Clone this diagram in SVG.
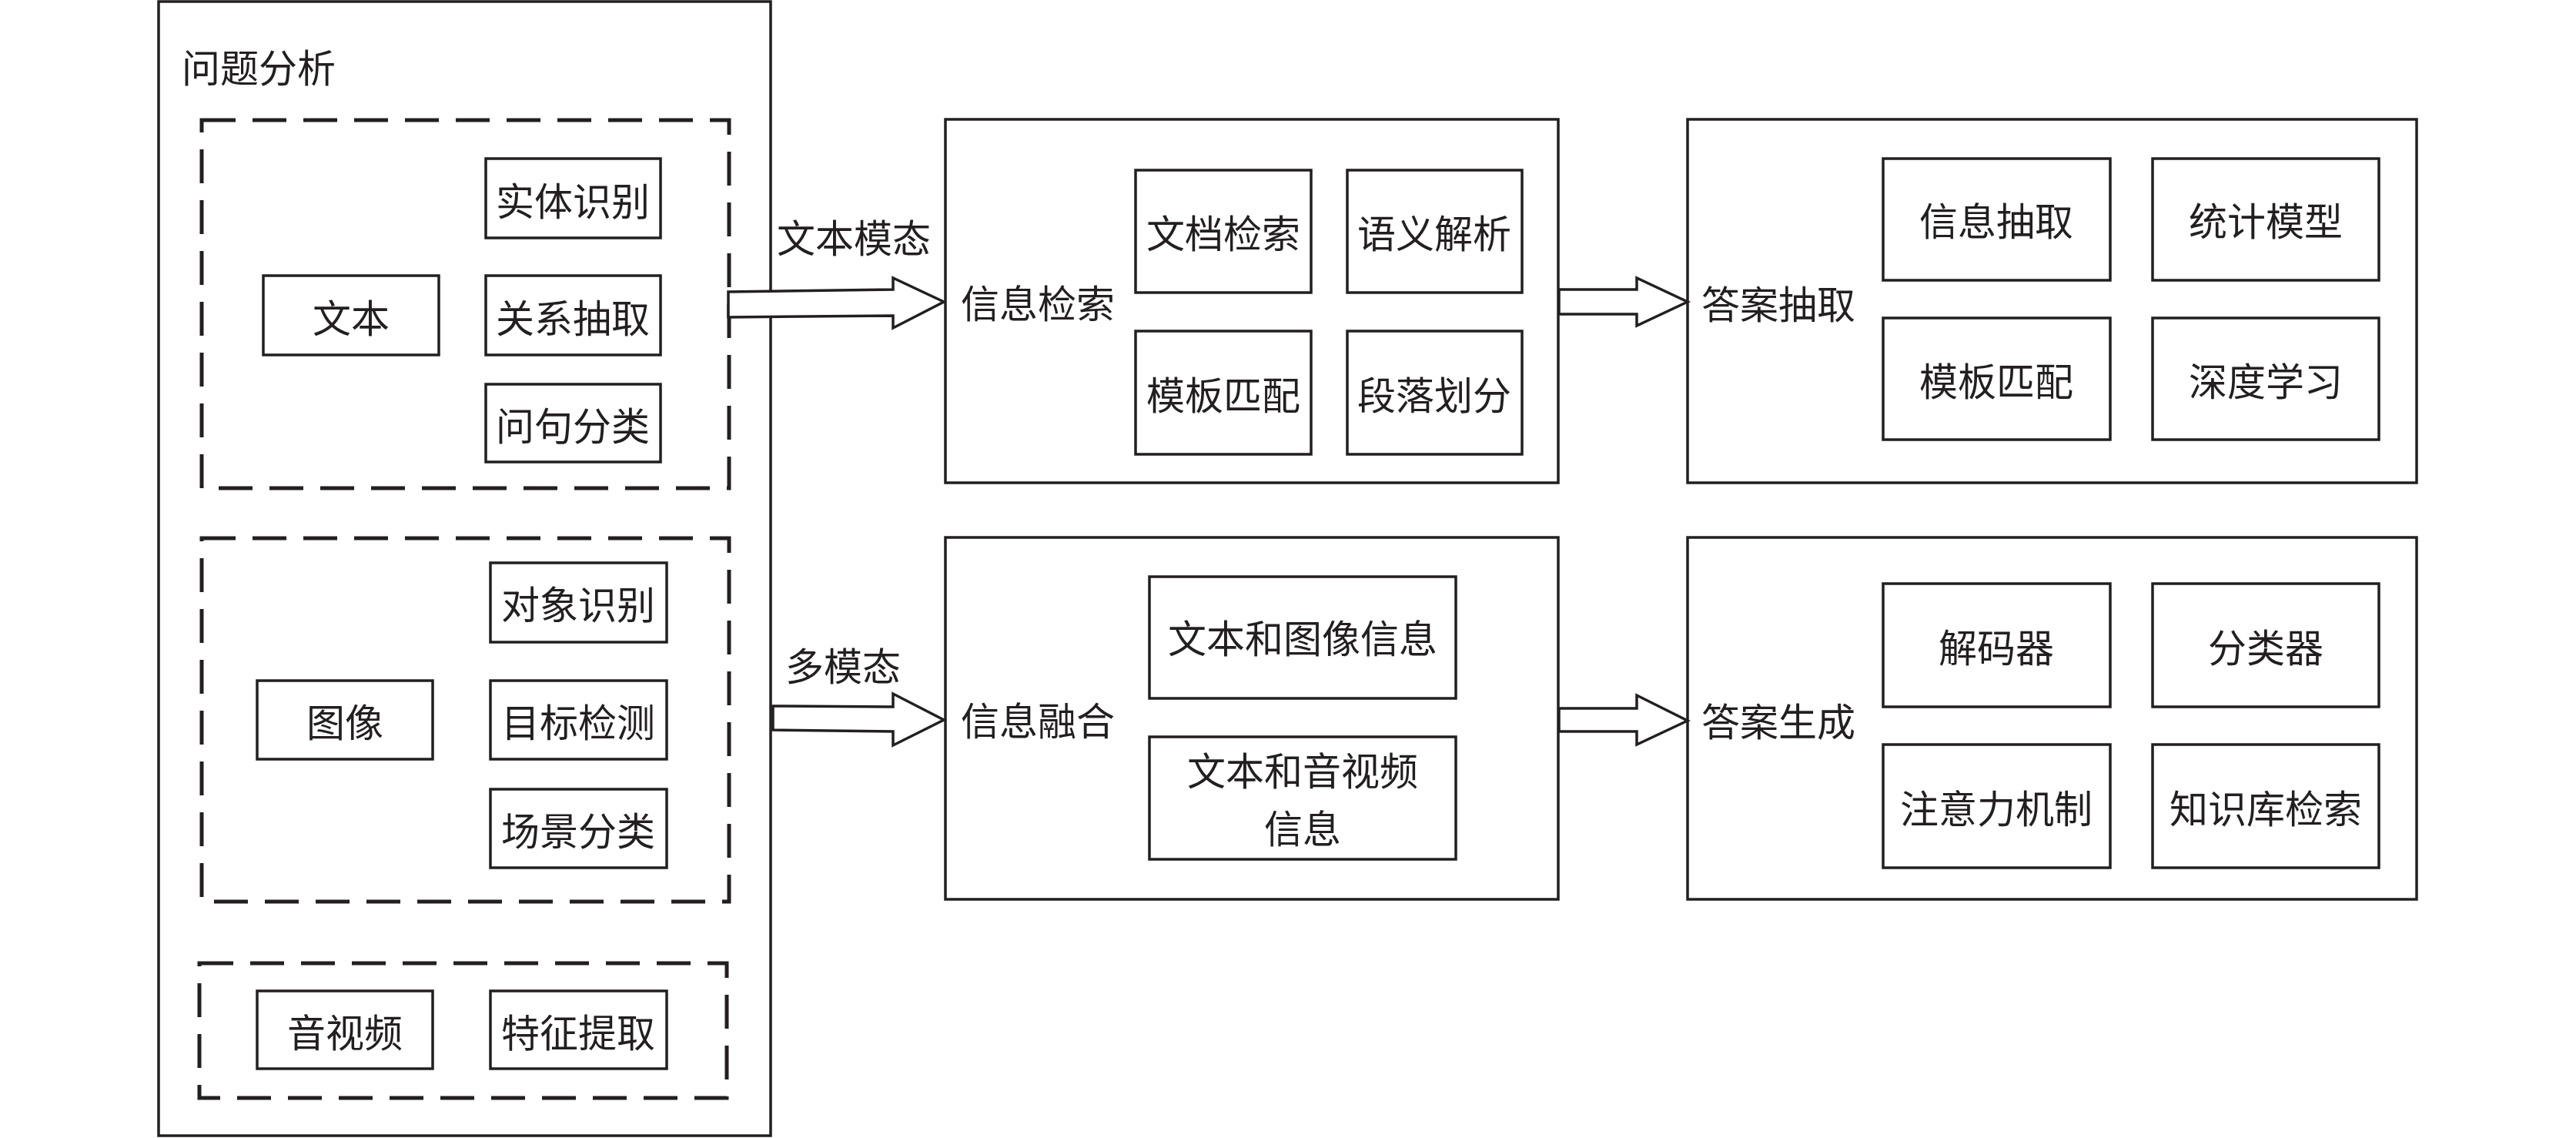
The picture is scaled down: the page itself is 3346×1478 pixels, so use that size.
<svg xmlns="http://www.w3.org/2000/svg" width="3346" height="1478" viewBox="0 0 3346 1478">
<style>
  .box { fill: #ffffff; stroke: #231f20; stroke-width: 3.5; }
  .dash { fill: none; stroke: #231f20; stroke-width: 5; stroke-dasharray: 44 22; }
  .arrow { fill: #ffffff; stroke: #231f20; stroke-width: 3.5; stroke-linejoin: miter; }
  text { font-family: "Noto Sans CJK SC", "Noto Sans", sans-serif; font-size: 50px; fill: #231f20; }
  .c { text-anchor: middle; dominant-baseline: central; }
  .l { text-anchor: start; dominant-baseline: central; }
</style>
<rect width="3346" height="1478" fill="#ffffff"/>

<g id="question-analysis">
  <rect class="box" x="206" y="2" width="795" height="1473"/>
  <text class="l" x="236" y="85">问题分析</text>
</g>

<g id="text-group">
  <rect class="dash" x="262" y="156" width="685" height="478"/>
</g>
<g id="node-text"><rect class="box" x="342" y="358" width="228" height="103"/><text class="c" x="456" y="410">文本</text></g>
<g id="node-entity"><rect class="box" x="631" y="206" width="227" height="103"/><text class="c" x="744" y="258">实体识别</text></g>
<g id="node-relation"><rect class="box" x="631" y="358" width="227" height="103"/><text class="c" x="744" y="410">关系抽取</text></g>
<g id="node-qclass"><rect class="box" x="631" y="499" width="227" height="101"/><text class="c" x="744" y="550">问句分类</text></g>

<g id="image-group">
  <rect class="dash" x="262" y="699" width="685" height="472"/>
</g>
<g id="node-image"><rect class="box" x="334" y="884" width="228" height="102"/><text class="c" x="448" y="935">图像</text></g>
<g id="node-object"><rect class="box" x="637" y="731" width="229" height="103"/><text class="c" x="751" y="782">对象识别</text></g>
<g id="node-detect"><rect class="box" x="637" y="884" width="229" height="102"/><text class="c" x="751" y="935">目标检测</text></g>
<g id="node-scene"><rect class="box" x="637" y="1025" width="229" height="102"/><text class="c" x="751" y="1076">场景分类</text></g>

<g id="av-group">
  <rect class="dash" x="259" y="1251" width="685" height="175"/>
</g>
<g id="node-av"><rect class="box" x="334" y="1287" width="228" height="101"/><text class="c" x="448" y="1338">音视频</text></g>
<g id="node-feature"><rect class="box" x="637" y="1287" width="229" height="101"/><text class="c" x="751" y="1338">特征提取</text></g>

<g id="info-retrieval">
  <rect class="box" x="1228" y="155" width="796" height="472"/>
  <text class="l" x="1248" y="391">信息检索</text>
</g>
<g id="node-doc"><rect class="box" x="1475" y="221" width="228" height="159"/><text class="c" x="1589" y="300">文档检索</text></g>
<g id="node-semantic"><rect class="box" x="1750" y="221" width="227" height="159"/><text class="c" x="1863" y="300">语义解析</text></g>
<g id="node-template1"><rect class="box" x="1475" y="430" width="228" height="160"/><text class="c" x="1589" y="510">模板匹配</text></g>
<g id="node-paragraph"><rect class="box" x="1750" y="430" width="227" height="160"/><text class="c" x="1863" y="510">段落划分</text></g>

<g id="info-fusion">
  <rect class="box" x="1228" y="698" width="796" height="470"/>
  <text class="l" x="1248" y="933">信息融合</text>
</g>
<g id="node-text-image"><rect class="box" x="1493" y="749" width="398" height="158"/><text class="c" x="1692" y="826">文本和图像信息</text></g>
<g id="node-text-av"><rect class="box" x="1493" y="957" width="398" height="159"/><text class="c" x="1692" y="998">文本和音视频</text><text class="c" x="1692" y="1073">信息</text></g>

<g id="answer-extraction">
  <rect class="box" x="2192" y="155" width="947" height="472"/>
  <text class="l" x="2210" y="392">答案抽取</text>
</g>
<g id="node-info-extract"><rect class="box" x="2446" y="206" width="295" height="158"/><text class="c" x="2593" y="284">信息抽取</text></g>
<g id="node-stat"><rect class="box" x="2796" y="206" width="294" height="158"/><text class="c" x="2943" y="284">统计模型</text></g>
<g id="node-template2"><rect class="box" x="2446" y="413" width="295" height="158"/><text class="c" x="2593" y="492">模板匹配</text></g>
<g id="node-deep"><rect class="box" x="2796" y="413" width="294" height="158"/><text class="c" x="2943" y="492">深度学习</text></g>

<g id="answer-generation">
  <rect class="box" x="2192" y="698" width="947" height="470"/>
  <text class="l" x="2210" y="934">答案生成</text>
</g>
<g id="node-decoder"><rect class="box" x="2446" y="758" width="295" height="160"/><text class="c" x="2593" y="838">解码器</text></g>
<g id="node-classifier"><rect class="box" x="2796" y="758" width="294" height="160"/><text class="c" x="2943" y="838">分类器</text></g>
<g id="node-attention"><rect class="box" x="2446" y="967" width="295" height="160"/><text class="c" x="2593" y="1047">注意力机制</text></g>
<g id="node-kb"><rect class="box" x="2796" y="967" width="294" height="160"/><text class="c" x="2943" y="1047">知识库检索</text></g>

<g id="connectors">
  <polygon class="arrow" points="946,379 1160,376 1160,361 1226,392 1160,426 1160,410 946,412"/>
  <text class="l" x="1009" y="306">文本模态</text>
  <polygon class="arrow" points="1004,917 1160,918 1160,901 1226,935 1160,968 1160,950 1004,948"/>
  <text class="l" x="1020" y="862">多模态</text>
  <polygon class="arrow" points="2025,376 2126,376 2126,361 2192,392 2126,423 2126,408 2025,408"/>
  <polygon class="arrow" points="2025,920 2126,920 2126,903 2192,936 2126,967 2126,950 2025,950"/>
</g>
</svg>
